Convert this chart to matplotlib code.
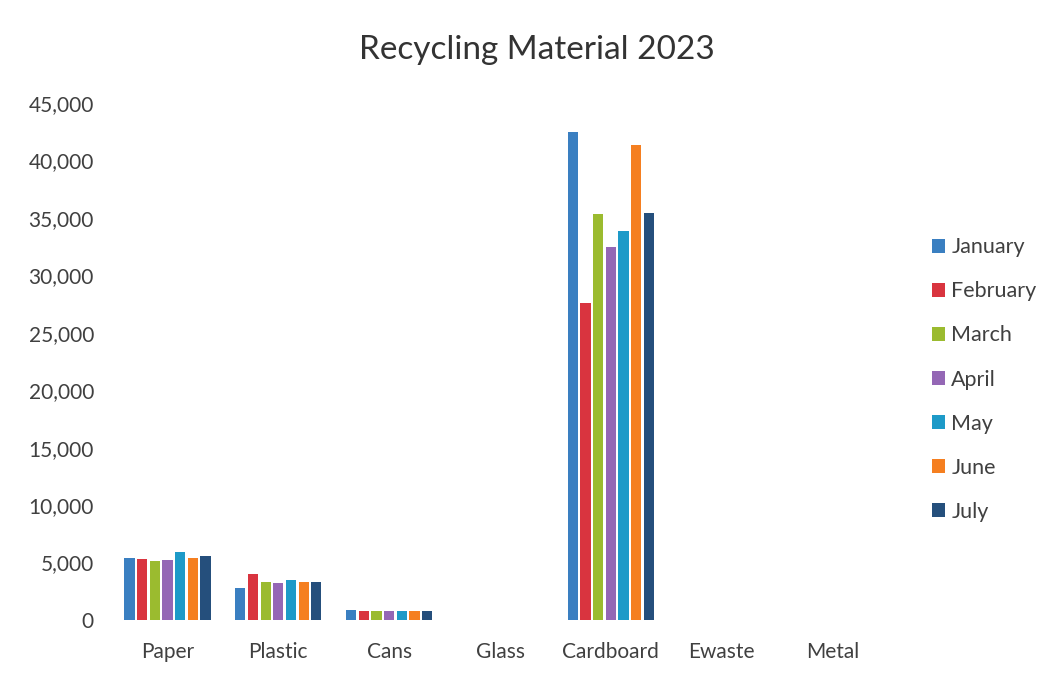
import matplotlib
matplotlib.use("Agg")
import matplotlib.pyplot as plt
import numpy as np
from matplotlib.ticker import FuncFormatter

# data
materials = ["Paper", "Plastic", "Cans", "Glass", "Cardboard", "Ewaste", "Metal"]
months = ["January", "February", "March", "April", "May", "June", "July"]

january = [5400, 2800, 850, 0, 42500, 0, 0]
february = [5300, 4000, 750, 0, 27600, 0, 0]
march = [5100, 3300, 750, 0, 35300, 0, 0]
april = [5200, 3250, 750, 0, 32500, 0, 0]
may = [5900, 3500, 750, 0, 33850, 0, 0]
june = [5400, 3300, 750, 0, 41350, 0, 0]
july = [5600, 3350, 750, 0, 35400, 0, 0]

series = [january, february, march, april, may, june, july]
colors = ["#3a7fc1", "#d9343f", "#9bbb2f", "#9467b5", "#1d9ac8", "#f57f20", "#254f7c"]

plt.rcParams["font.family"] = ["Lato", "DejaVu Sans"]

fig = plt.figure(figsize=(10.5, 6.76), dpi=100)
ax = fig.add_axes([0.1067, 0.0828, 0.739, 0.7648])

x = np.arange(len(materials))
group_w = 0.8
pitch = group_w / len(months)
for i, (vals, c, m) in enumerate(zip(series, colors, months)):
    offs = -group_w / 2 + pitch * (i + 0.5)
    ax.bar(x + offs, vals, width=pitch * 0.8, color=c, label=m)

ax.set_xlim(-0.5, len(materials) - 0.5)
ax.set_ylim(0, 45000)
ax.set_yticks(np.arange(0, 45001, 5000))
ax.yaxis.set_major_formatter(FuncFormatter(lambda v, p: f"{int(v):,}"))
ax.set_xticks(x)
ax.set_xticklabels(materials)

for s in ax.spines.values():
    s.set_visible(False)
ax.tick_params(axis="both", length=0, labelsize=15, colors="#404040")
ax.tick_params(axis="y", pad=13)
ax.tick_params(axis="x", pad=16)

fig.text(0.511, 0.926, "Recycling Material 2023", ha="center", va="center",
         fontsize=24, color="#333333")

fig.legend(loc="center left", bbox_to_anchor=(0.877, 0.4386), frameon=False,
           fontsize=15.5, handlelength=0.62, handleheight=0.62, handletextpad=0.3,
           labelspacing=1.12, borderpad=0, labelcolor="#404040")

fig.savefig("out.png", dpi=100, facecolor="white")
